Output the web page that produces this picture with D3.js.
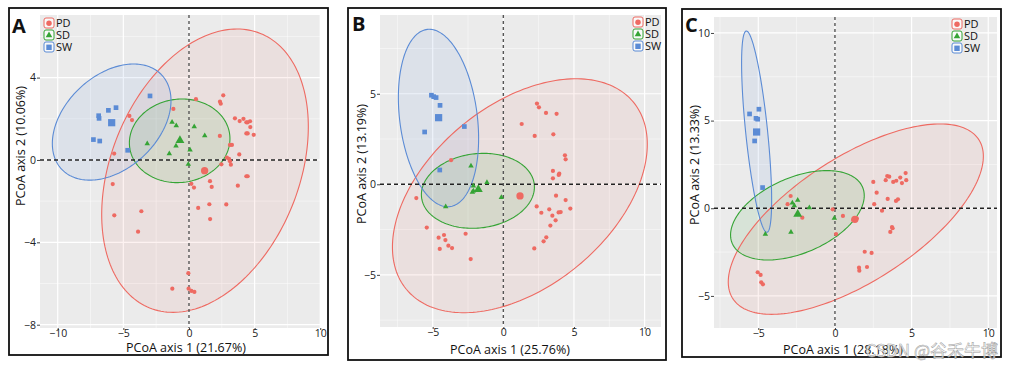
<!DOCTYPE html>
<html><head><meta charset="utf-8">
<script src="https://cdn.jsdelivr.net/npm/d3@7"></script>
<style>body{margin:0;background:#fff}svg{display:block}text{font-family:"Open Sans",sans-serif}</style>
</head><body><svg id="c" width="1015" height="367"></svg>
<script>
const groups = ["PD","SD","SW"];

// ---------- Panel A ----------
const A_PD = [[0.53,2.95],[2.61,3.14],[2.36,2.83],[2.42,2.73],[-1.19,2.48],[-4.54,2.14],[-4.34,1.94],[3.50,2.02],[3.86,1.89],[4.15,2.0],[4.37,1.83],[4.47,1.83],[4.65,1.88],[4.67,1.60],[4.37,1.29],[4.47,1.29],[4.93,1.22],[2.35,1.17],[3.12,0.73],[3.27,0.73],[3.83,0.27],[2.89,0.11],[3.05,0.05],[3.12,-0.06],[3.19,-0.23],[2.47,-0.21],[-5.70,0.31],[4.37,-0.79],[4.47,-0.79],[0.18,-1.16],[0.38,-1.34],[1.60,-1.03],[1.73,-1.31],[3.72,-1.25],[-5.81,-1.17],[1.55,-2.15],[2.84,-2.16],[0.70,-2.33],[1.61,-2.87],[-3.63,-2.49],[-5.69,-2.69],[-3.88,-3.48],[-0.05,-5.50],[-1.27,-6.25],[-0.03,-6.25],[0.18,-6.36],[0.41,-6.41]];
const A_SD = [[-1.29,1.83],[-0.97,1.66],[0.40,1.62],[1.20,1.18],[-3.18,0.79],[-0.99,0.68],[0.08,0.49],[-1.50,0.31],[-0.05,-0.21]];
const A_SW = [[-2.97,3.11],[-5.56,2.54],[-6.14,2.41],[-6.88,2.15],[-6.85,2.02],[-7.28,0.99],[-6.80,0.92],[-4.67,0.47]];
const A_centroids = [[1.19,-0.52],[-0.69,0.95],[-5.89,1.81]];
const A_ellipses = [[1.22,-0.52,7.87,6.88,0.31],[-0.71,0.93,3.83,2.03,0.05],[-5.89,1.84,4.52,2.82,0.37]]; // cx,cy,halfX,halfY,rho
const A_xTicks = [-10,-5,0,5,10];
const A_yTicks = [-8,-4,0,4];
const A_xMinor = [-7.5,-2.5,2.5,7.5];
const A_yMinor = [-6,-2,2,6];
const A_xDomain = [-11.35,9.98];
const A_yDomain = [-8.16,7.04];

// ---------- Panel B ----------
const B_PD = [[2.38,4.46],[2.52,4.25],[3.02,3.94],[3.77,3.89],[1.30,3.33],[2.22,2.67],[3.54,2.76],[-3.70,1.33],[4.36,1.60],[4.41,1.38],[3.51,0.74],[3.96,0.59],[3.92,0.52],[3.51,0.33],[-6.16,-0.76],[3.73,-0.63],[4.41,-0.87],[2.36,-1.22],[3.25,-1.38],[4.74,-1.34],[2.69,-1.57],[3.91,-1.55],[4.06,-1.53],[3.47,-1.73],[3.70,-1.99],[3.33,-2.28],[-5.42,-2.39],[-2.67,-2.73],[-4.58,-2.95],[-4.20,-2.80],[-4.10,-3.08],[-3.89,-3.39],[-3.63,-3.52],[-4.50,-3.57],[3.04,-2.93],[2.85,-3.15],[2.19,-3.54],[-2.31,-4.13]];
const B_SD = [[-2.29,1.01],[-1.16,0.11],[-2.12,-0.09],[-2.19,-0.44],[-2.12,-0.37],[-0.14,-0.72],[-4.08,-1.23]];
const B_SW = [[-5.09,4.92],[-4.93,4.84],[-4.76,4.79],[-4.48,4.36],[-5.57,2.89],[-2.76,3.19],[-4.50,0.79]];
const B_centroids = [[1.18,-0.64],[-1.77,-0.28],[-4.58,3.68]];
const B_ellipses = [[1.17,-0.63,9.02,6.46,0.44],[-1.80,-0.36,4.0,2.07,0.1],[-4.59,3.66,2.84,4.90,-0.23]];
const B_xTicks = [-5,0,5,10];
const B_yTicks = [-5,0,5];
const B_xMinor = [-7.5,-2.5,2.5,7.5];
const B_yMinor = [-7.5,-2.5,2.5,7.5];
const B_xDomain = [-8.73,11.16];
const B_yDomain = [-7.88,9.35];

// ---------- Panel C ----------
const C_PD = [[-2.89,0.70],[-3.09,0.23],[-2.13,-0.54],[-0.15,-0.06],[0.07,-1.47],[0.52,-0.44],[1.42,-0.57],[1.19,-0.67],[2.50,1.50],[2.72,0.89],[2.56,0.23],[3.07,-0.14],[3.31,1.60],[3.41,1.84],[3.54,1.80],[3.80,1.50],[4.0,1.57],[4.26,1.75],[4.37,1.44],[4.61,2.01],[4.65,1.60],[3.44,0.53],[3.98,0.42],[4.11,0.51],[3.72,-1.07],[3.76,-1.14],[3.61,-1.35],[1.94,-2.48],[2.39,-2.55],[1.57,-3.39],[1.59,-3.56],[2.09,-3.35],[-5.04,-3.65],[-4.85,-3.80],[-4.81,-4.22],[-4.70,-4.34]];
const C_SD = [[-2.43,0.46],[-2.78,0.30],[-2.65,0.15],[-1.67,0.04],[-0.04,-0.57],[-2.87,-1.37],[-4.54,-1.48]];
const C_SW = [[-5.57,5.38],[-4.96,5.65],[-5.15,5.13],[-5.04,5.08],[-5.24,3.84],[-4.72,1.18]];
const C_centroids = [[1.30,-0.63],[-2.43,-0.34],[-5.11,4.35]];
const C_ellipses = [[1.36,-0.62,8.32,5.43,0.66],[-2.45,-0.40,4.36,2.55,0.44],[-5.11,4.37,0.98,5.74,-0.68]];
const C_xTicks = [-5,0,5,10];
const C_yTicks = [-5,0,5,10];
const C_xMinor = [-7.5,-2.5,2.5,7.5];
const C_yMinor = [-7.5,-2.5,2.5,7.5];
const C_xDomain = [-7.89,10.57];
const C_yDomain = [-6.83,10.91];

const titlesX = ["PCoA axis 1 (21.67%)","PCoA axis 1 (25.76%)","PCoA axis 1 (28.18%)"];
const titlesY = ["PCoA axis 2 (10.06%)","PCoA axis 2 (13.19%)","PCoA axis 2 (13.33%)"];
const panelLabels = ["A","B","C"];

// ---------- styles / layout ----------
const colors = {PD:"#EE6A62", SD:"#35A435", SW:"#5B8BD5"};
const fillOpacity = {PD:0.09, SD:0.11, SW:0.1};
const layouts = [
  {frame:[9,8,328,355], plot:[40,15,320,328], label:[12,33], legend:[44,18], yTitle:[21,146], xTitle:[186,351.5]},
  {frame:[348,8,666,360], plot:[380,15,661,327], label:[352,31], legend:[633,17], yTitle:[362,164], xTitle:[510,353.5]},
  {frame:[682,9,1001,357], plot:[714,17,997,328], label:[685,32], legend:[952,19], yTitle:[695,165], xTitle:[843,353.5]}
];

const panels = [
  {PD:A_PD,SD:A_SD,SW:A_SW,cent:A_centroids,ell:A_ellipses,xt:A_xTicks,yt:A_yTicks,xm:A_xMinor,ym:A_yMinor,xd:A_xDomain,yd:A_yDomain},
  {PD:B_PD,SD:B_SD,SW:B_SW,cent:B_centroids,ell:B_ellipses,xt:B_xTicks,yt:B_yTicks,xm:B_xMinor,ym:B_yMinor,xd:B_xDomain,yd:B_yDomain},
  {PD:C_PD,SD:C_SD,SW:C_SW,cent:C_centroids,ell:C_ellipses,xt:C_xTicks,yt:C_yTicks,xm:C_xMinor,ym:C_yMinor,xd:C_xDomain,yd:C_yDomain}
];

const svg = d3.select("#c");
svg.append("rect").attr("width",1015).attr("height",367).attr("fill","#fff");

function symbolPath(g, big){
  if(g==="PD") return d3.symbol(d3.symbolCircle, big?42:14)();
  if(g==="SD") return d3.symbol(d3.symbolTriangle, big?34:13)();
  return d3.symbol(d3.symbolSquare, big?52:22)();
}

panels.forEach((p,i)=>{
  const L = layouts[i];
  const [px0,py0,px1,py1] = L.plot;
  const x = d3.scaleLinear().domain(p.xd).range([px0,px1]);
  const y = d3.scaleLinear().domain(p.yd).range([py1,py0]);
  const g = svg.append("g");
  const clipId = "clip"+i;
  g.append("clipPath").attr("id",clipId).append("rect").attr("x",px0).attr("y",py0).attr("width",px1-px0).attr("height",py1-py0);

  g.append("rect").attr("x",px0).attr("y",py0).attr("width",px1-px0).attr("height",py1-py0).attr("fill","#EBEBEB");
  g.selectAll(".xm").data(p.xm.filter(v=>v>p.xd[0]&&v<p.xd[1])).join("line").attr("x1",d=>x(d)).attr("x2",d=>x(d)).attr("y1",py0).attr("y2",py1).attr("stroke","#fff").attr("stroke-width",0.6).attr("opacity",0.8);
  g.selectAll(".ym").data(p.ym.filter(v=>v>p.yd[0]&&v<p.yd[1])).join("line").attr("y1",d=>y(d)).attr("y2",d=>y(d)).attr("x1",px0).attr("x2",px1).attr("stroke","#fff").attr("stroke-width",0.6).attr("opacity",0.8);
  g.selectAll(".xg").data(p.xt).join("line").attr("x1",d=>x(d)).attr("x2",d=>x(d)).attr("y1",py0).attr("y2",py1).attr("stroke","#fff").attr("stroke-width",1.2);
  g.selectAll(".yg").data(p.yt).join("line").attr("y1",d=>y(d)).attr("y2",d=>y(d)).attr("x1",px0).attr("x2",px1).attr("stroke","#fff").attr("stroke-width",1.2);

  const eg = g.append("g").attr("clip-path",`url(#${clipId})`);
  const line = d3.line().x(d=>x(d[0])).y(d=>y(d[1])).curve(d3.curveLinearClosed);
  const ellPts = k => {
    const [cx,cy,hx,hy,rho] = p.ell[k];
    return d3.range(0,200).map(j=>{const t=j/200*2*Math.PI; return [cx+hx*Math.cos(t), cy+hy*(rho*Math.cos(t)+Math.sqrt(1-rho*rho)*Math.sin(t))];});
  };
  groups.forEach((gr,k)=>{
    eg.append("path").attr("d",line(ellPts(k))).attr("fill",colors[gr]).attr("fill-opacity",fillOpacity[gr]).attr("stroke","none");
  });
  groups.forEach((gr,k)=>{
    eg.append("path").attr("d",line(ellPts(k))).attr("fill","none").attr("stroke",colors[gr]).attr("stroke-width",1.1);
  });

  g.append("line").attr("x1",px0).attr("x2",px1).attr("y1",y(0)).attr("y2",y(0)).attr("stroke","#222").attr("stroke-width",1.4).attr("stroke-dasharray","4,3");
  g.append("line").attr("x1",x(0)).attr("x2",x(0)).attr("y1",py0).attr("y2",py1).attr("stroke","#555").attr("stroke-width",1.4).attr("stroke-dasharray","3,3");

  groups.forEach((gr,k)=>{
    g.selectAll(".pt"+gr).data(p[gr]).join("path").attr("d",symbolPath(gr,false)).attr("transform",d=>`translate(${x(d[0])},${y(d[1])})`).attr("fill",colors[gr]);
    g.append("path").attr("d",symbolPath(gr,true)).attr("transform",`translate(${x(p.cent[k][0])},${y(p.cent[k][1])})`).attr("fill",colors[gr]);
  });

  const xa = g.append("g").attr("transform",`translate(0,${py1})`).call(d3.axisBottom(x).tickValues(p.xt).tickSize(2).tickPadding(0));
  const ya = g.append("g").attr("transform",`translate(${px0},0)`).call(d3.axisLeft(y).tickValues(p.yt).tickSize(3).tickPadding(1));
  [xa,ya].forEach(a=>{a.select(".domain").remove(); a.selectAll("line").attr("stroke","#444"); a.selectAll("text").attr("fill","#222").style("font-size","10.5px").style("font-family","'Open Sans',sans-serif");});

  g.append("text").attr("x",L.xTitle[0]).attr("y",L.xTitle[1]).attr("text-anchor","middle").style("font-size","12.5px").attr("fill","#111").text(titlesX[i]);
  g.append("text").attr("transform",`translate(${L.yTitle[0]},${L.yTitle[1]}) rotate(-90)`).attr("text-anchor","middle").attr("dy","0.35em").style("font-size","12.5px").attr("fill","#111").text(titlesY[i]);
  g.append("text").attr("x",L.label[0]).attr("y",L.label[1]).style("font-size","20px").style("font-weight","bold").attr("fill","#111").text(panelLabels[i]);

  const lg = g.append("g").attr("transform",`translate(${L.legend[0]},${L.legend[1]})`);
  groups.forEach((gr,k)=>{
    const row = lg.append("g").attr("transform",`translate(0,${k*12})`);
    row.append("rect").attr("x",0).attr("y",0).attr("width",10).attr("height",10).attr("rx",2).attr("fill","#fff").attr("fill-opacity",0.7).attr("stroke",colors[gr]).attr("stroke-width",1);
    row.append("path").attr("d",symbolPath(gr,true)).attr("transform","translate(5,5.3) scale(0.75)").attr("fill",colors[gr]);
    row.append("text").attr("x",12).attr("y",5).attr("dy","0.36em").style("font-size","11px").attr("fill","#111").text(gr);
  });

  const [fx0,fy0,fx1,fy1] = L.frame;
  svg.append("rect").attr("x",fx0).attr("y",fy0).attr("width",fx1-fx0).attr("height",fy1-fy0).attr("fill","none").attr("stroke","#111").attr("stroke-width",1.8);
});

svg.append("text").attr("x",998).attr("y",357).attr("text-anchor","end").style("font-size","17px").style("font-family","'Noto Sans CJK SC',sans-serif").attr("fill","#fff").attr("fill-opacity",0.75).attr("stroke","#9a9a9a").attr("stroke-width",0.5).text("CSDN @谷禾牛博");
</script></body></html>
